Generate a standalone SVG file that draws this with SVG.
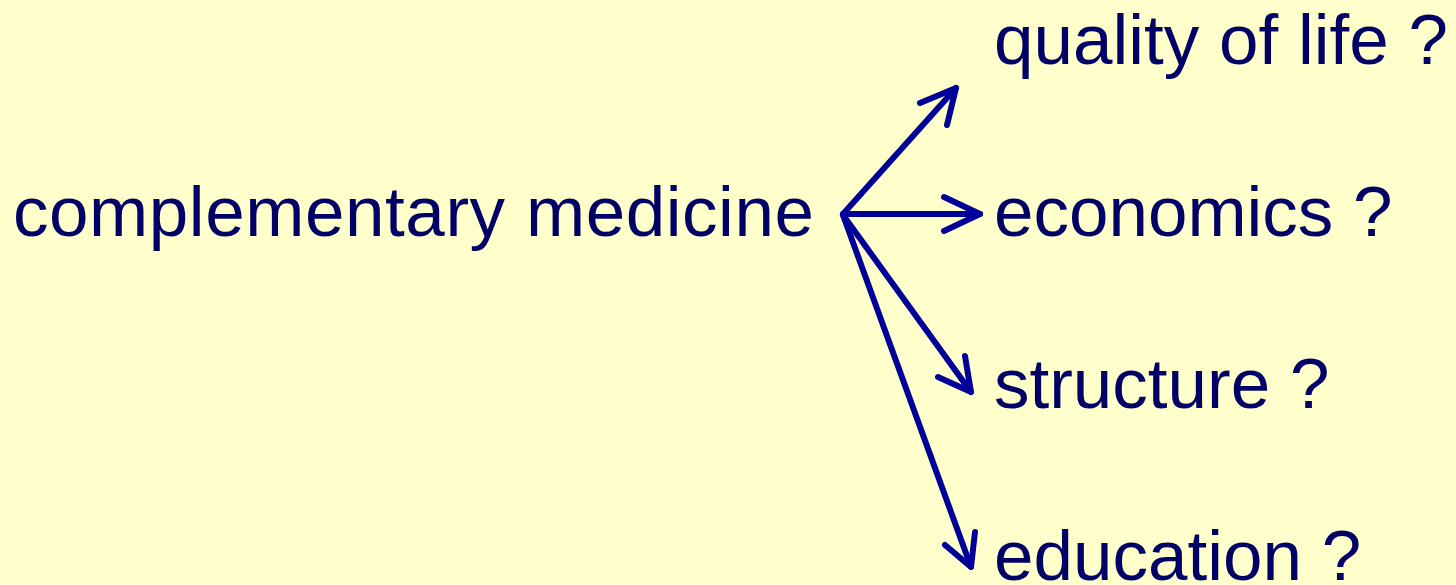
<svg xmlns="http://www.w3.org/2000/svg" width="1456" height="585" viewBox="0 0 1456 585">
<style>
text{font-family:"Liberation Sans",Arial,sans-serif;font-size:71px;fill:#000066}
.c line,.c polyline{stroke:#000099;stroke-width:6;stroke-linecap:round;stroke-linejoin:round;fill:none}
</style>
<rect width="1456" height="585" fill="#FFFFCC"/>
<g id="n-complementary"><text x="13" y="236" textLength="801" lengthAdjust="spacing">complementary medicine</text></g>
<g id="n-quality"><text x="994" y="64">quality of life ?</text></g>
<g id="n-economics"><text x="994" y="236">economics ?</text></g>
<g id="n-structure"><text x="994" y="408">structure ?</text></g>
<g id="n-education"><text x="994" y="580">education ?</text></g>
<g class="c" id="connectors">
<line x1="843" y1="214" x2="956" y2="88"/><polyline points="920,103 956,88 947,125"/>
<line x1="843" y1="214" x2="980" y2="214"/><polyline points="944,197 980,214 944,231"/>
<line x1="843" y1="215" x2="971" y2="392"/><polyline points="965,356 971,392 938,377"/>
<line x1="843" y1="215" x2="971" y2="567"/><polyline points="975,532 971,567 945,545"/>
</g>
</svg>
